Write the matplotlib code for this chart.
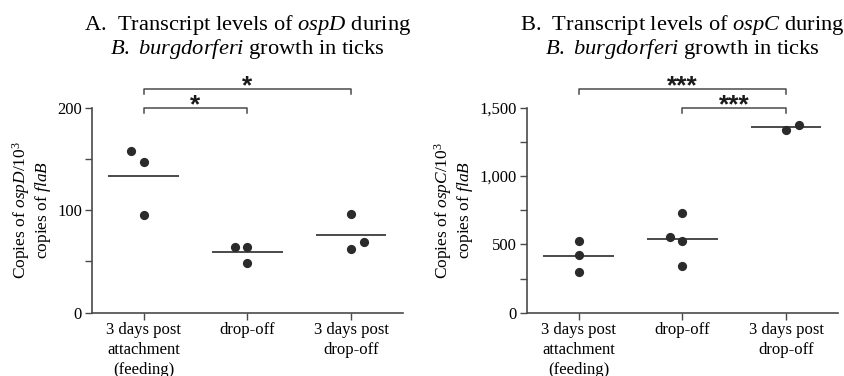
import numpy as np
import matplotlib
matplotlib.use("Agg")
import matplotlib.pyplot as plt
import matplotlib.transforms as mtransforms

plt.rcParams['font.family'] = ['Liberation Serif', 'DejaVu Serif']
plt.rcParams['mathtext.fontset'] = 'custom'
plt.rcParams['mathtext.rm'] = 'Liberation Serif'
plt.rcParams['mathtext.it'] = 'Liberation Serif:italic'
plt.rcParams['mathtext.bf'] = 'Liberation Serif:bold'

# ---------------- data ----------------
categories = ["3 days post\nattachment\n(feeding)", "drop-off", "3 days post\ndrop-off"]

ospD_feeding = [157.8, 146.7, 95.0]
ospD_dropoff = [64.4, 64.4, 48.2]
ospD_postdrop = [96.6, 69.3, 62.1]

ospC_feeding = [524.6, 420.0, 297.8]
ospC_dropoff = [731.7, 551.7, 522.4, 339.5]
ospC_postdrop = [1336.8, 1375.6]

ospD_ticks = [0, 100, 200]
ospD_ticklabels = ["0", "100", "200"]
ospC_ticks = [0, 500, 1000, 1500]
ospC_ticklabels = ["0", "500", "1,000", "1,500"]

ospD_sig = [(0, 1, "*"), (0, 2, "*")]
ospC_sig = [(1, 2, "***"), (0, 2, "***")]

# ---------------- layout / style ----------------
jitter_D = [[-0.12, 0.0, 0.0], [-0.12, 0.0, 0.0], [0.0, 0.12, 0.0]]
jitter_C = [[0.0, 0.0, 0.0], [0.0, -0.12, 0.0, 0.0], [0.0, 0.125]]

point_color = "#2b2b2b"
line_color = "#3c3c3c"
spine_color = "#4a4a4a"

W, H = 844, 376
fig = plt.figure(figsize=(W / 100, H / 100), dpi=100)

def px_axes(l, r, t, b):
    return fig.add_axes([l / W, 1 - b / H, (r - l) / W, (b - t) / H])

axA = px_axes(91.7, 403, 107.7, 312.7)
axB = px_axes(526.7, 838, 107.7, 312.7)


def draw_panel(ax, groups, jitters, ymax, ticks, ticklabels, minor_step, sig,
               title_gene, ylabel_gene, letter):
    for i, (vals, jit) in enumerate(zip(groups, jitters)):
        xs = np.full(len(vals), float(i)) + np.array(jit)
        ax.scatter(xs, vals, s=44, color=point_color, zorder=3, linewidths=0)
        m = np.mean(vals)
        ax.plot([i - 0.34, i + 0.34], [m, m], color=line_color, lw=1.3, zorder=2,
                solid_capstyle='butt')
    ax.set_xlim(-0.5, 2.5)
    ax.set_ylim(0, ymax)
    ax.set_xticks(range(len(categories)))
    ax.set_xticklabels(categories, fontsize=12, linespacing=1.3)
    ax.set_yticks(ticks)
    ax.set_yticklabels(ticklabels, fontsize=12)
    ax.set_yticks(np.arange(0, ymax + 1, minor_step), minor=True)
    for s in ['top', 'right']:
        ax.spines[s].set_visible(False)
    for s in ['left', 'bottom']:
        ax.spines[s].set_color(spine_color)
        ax.spines[s].set_linewidth(1.2)
    ax.tick_params(axis='both', which='both', direction='out', length=5,
                   width=1.0, color=spine_color, pad=2)
    ax.tick_params(axis='y', which='both', pad=2)
    ax.set_ylabel("Copies of $\\mathit{%s}$/10$^3$\ncopies of $\\mathit{flaB}$" % ylabel_gene,
                  fontsize=12.5, multialignment='center', labelpad=3, linespacing=1.1)
    ax.set_title("%s.  Transcript levels of $\\mathit{%s}$ during\n"
                 "$\\mathit{B.\\ burgdorferi}$ growth in ticks" % (letter, title_gene),
                 fontsize=16.2, pad=39, linespacing=1.0)

    trans = mtransforms.blended_transform_factory(ax.transData, ax.transAxes)
    star_trans = mtransforms.offset_copy(trans, fig=fig, x=0, y=-5, units='dots')
    levels = [1.0, 1.093]
    leg = 0.027
    for (a, b, label), lev in zip(sig, levels):
        ax.plot([a, a, b, b], [lev - leg, lev, lev, lev - leg], transform=trans,
                color=spine_color, lw=1.1, clip_on=False)
        ax.text((a + b) / 2, lev, label, transform=star_trans, ha='center',
                va='baseline', fontsize=19, family='Liberation Sans',
                fontweight='bold', color='#1a1a1a')


draw_panel(axA, [ospD_feeding, ospD_dropoff, ospD_postdrop], jitter_D, 200,
           ospD_ticks, ospD_ticklabels, 50, ospD_sig, "ospD", "ospD", "A")
draw_panel(axB, [ospC_feeding, ospC_dropoff, ospC_postdrop], jitter_C, 1500,
           ospC_ticks, ospC_ticklabels, 250, ospC_sig, "ospC", "ospC", "B")

fig.savefig("out.png", dpi=100)
